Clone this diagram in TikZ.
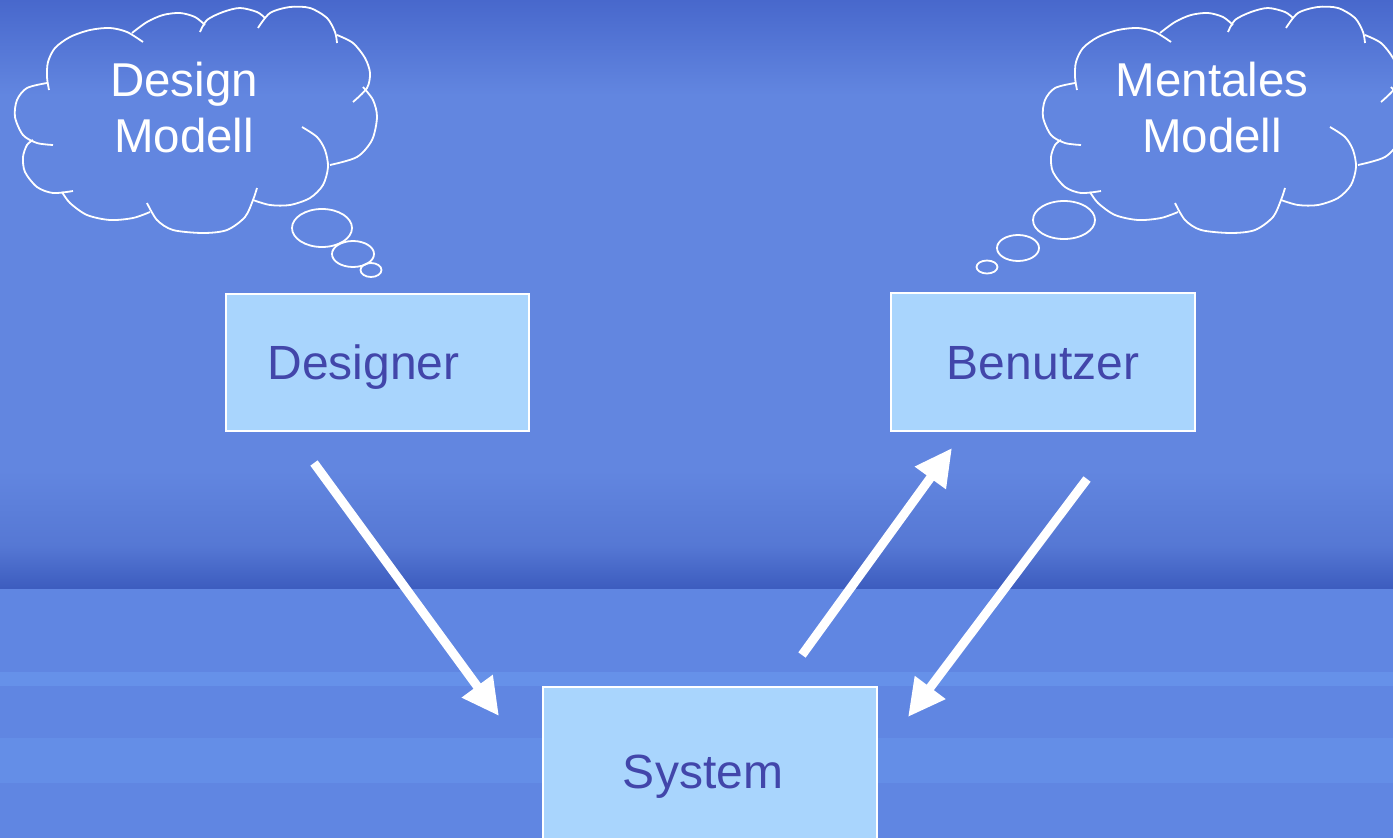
\documentclass[tikz,border=0pt]{standalone}
\usepackage{fontspec}
\setmainfont{Liberation Sans}
\usetikzlibrary{arrows.meta}

\definecolor{bgtop}{RGB}{72,104,204}
\definecolor{bgmid}{RGB}{98,134,224}
\definecolor{bgshade}{RGB}{86,120,212}
\definecolor{bgdark}{RGB}{60,92,190}
\definecolor{bglow}{RGB}{96,134,226}
\definecolor{bgstripe}{RGB}{106,152,238}
\definecolor{boxfill}{RGB}{169,213,253}
\definecolor{boxtext}{RGB}{66,70,170}

% outline of a thought cloud: overlapping bumps with short inner hooks
\newcommand\cloudoutline{%
  \draw[puff] plot[smooth] coordinates {(49,90) (47,77) (48,62) (55,48) (70,37) (90,30) (110,28) (127,32) (143,42)};
  \draw[puff] plot[smooth] coordinates {(132,33) (147,22) (163,15) (180,13) (195,17) (205,25)};
  \draw[puff] plot[smooth] coordinates {(200,32) (207,20) (223,12) (240,8) (257,12) (265,18)};
  \draw[puff] plot[smooth] coordinates {(258,28) (270,13) (290,7) (310,8) (327,18) (335,32) (337,43)};
  \draw[puff] plot[smooth] coordinates {(337,35) (353,43) (365,58) (370,73) (367,88) (353,102)};
  \draw[puff] plot[smooth] coordinates {(363,87) (373,100) (377,117) (372,140) (357,157) (330,165)};
  \draw[puff] plot[smooth] coordinates {(302,127) (317,137) (325,150) (328,167) (323,185) (310,198) (290,205) (270,205) (253,200)};
  \draw[puff] plot[smooth] coordinates {(257,188) (253,200) (245,217) (227,230) (203,233) (173,230) (157,220) (147,203)};
  \draw[puff] plot[smooth] coordinates {(150,212) (133,218) (110,220) (87,215) (70,203) (62,192)};
  \draw[puff] plot[smooth] coordinates {(73,191) (53,193) (37,187) (25,172) (23,157) (27,145) (33,140)};
  \draw[puff] plot[smooth] coordinates {(53,145) (37,143) (23,135) (15,117) (17,100) (27,88) (47,83)};
}

\begin{document}
\begin{tikzpicture}[x=1pt,y=-1pt,
  entity/.style={draw=white, line width=2pt, fill=boxfill, text=boxtext,
    font=\fontsize{48}{56}\selectfont, inner sep=0pt,
    text height=34pt, text depth=0pt},
  thoughttext/.style={text=white, align=center, inner sep=0pt,
    font=\fontsize{47.5}{56}\selectfont},
  flow/.style={draw=white, line width=9pt, -{Triangle[length=37pt,width=36pt]}},
  puff/.style={draw=white, line width=1.8pt}]

\useasboundingbox (0,0) rectangle (1393,838);

% background: blue gradient with a darker horizon band
\fill[bgmid] (0,0) rectangle (1393,838);
\shade[top color=bgtop, bottom color=bgmid] (0,0) rectangle (1393,95);
\shade[top color=bgmid, bottom color=bgshade] (0,470) rectangle (1393,545);
\shade[top color=bgshade, bottom color=bgdark] (0,545) rectangle (1393,589);
\fill[bglow] (0,589) rectangle (1393,838);
\fill[bgstripe!60!bglow] (0,672) rectangle (1393,686);
\fill[bgstripe!45!bglow] (0,738) rectangle (1393,783);

% thought clouds
\cloudoutline
\draw[puff] (322,228) ellipse [x radius=30pt, y radius=19pt];
\draw[puff] (353,254) ellipse [x radius=21pt, y radius=13pt];
\draw[puff] (371,270) ellipse [x radius=10.5pt, y radius=7pt];
\node[thoughttext] (designmodel) at (184,108) {Design\\Modell};

\begin{scope}[xshift=1028pt]
  \cloudoutline
\end{scope}
\draw[puff] (1064,220) ellipse [x radius=31pt, y radius=19pt];
\draw[puff] (1018,248) ellipse [x radius=21pt, y radius=13pt];
\draw[puff] (987,267) ellipse [x radius=10.5pt, y radius=6.5pt];
\node[thoughttext] (mentalmodel) at (1212,108) {Mentales\\Modell};

% actors and system
\node[entity, minimum width=303pt, minimum height=137pt] (designer) at (377.5,362.5) {Designer\hspace*{28pt}};
\node[entity, minimum width=304pt, minimum height=138pt] (benutzer) at (1043,362) {Benutzer};
\node[entity, minimum width=334pt, minimum height=168pt] (system) at (710,771) {System\hspace*{14pt}};

% connector ends
\coordinate (d-out) at ([shift={(-63.5,31)}]designer.south);
\coordinate (s-in-l) at ([shift={(-211,30)}]system.north);
\coordinate (s-out) at ([shift={(92,-31)}]system.north);
\coordinate (b-in) at ([shift={(-91,16)}]benutzer.south);
\coordinate (b-out) at ([shift={(44,47)}]benutzer.south);
\coordinate (s-in-r) at ([shift={(198,31)}]system.north);

\draw[flow] (d-out) -- (s-in-l);
\draw[flow] (s-out) -- (b-in);
\draw[flow] (b-out) -- (s-in-r);

\end{tikzpicture}
\end{document}
